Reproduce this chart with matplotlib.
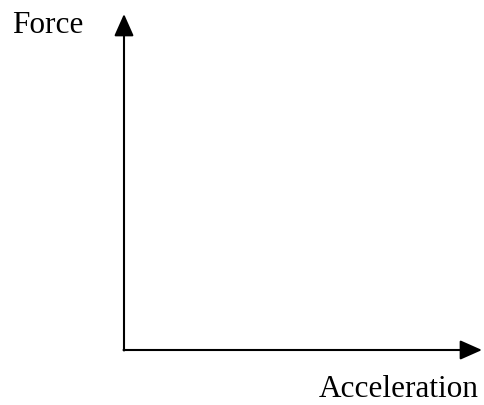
import matplotlib.pyplot as plt

# axis labels of the sketch
y_label = "Force"
x_label = "Acceleration"

# frame in pixel units of the 484x405 picture
width, height = 484, 405
origin = (124, 350)
y_tip = 14
x_tip = 482

plt.rcParams['font.family'] = ['Liberation Serif', 'DejaVu Serif']

fig = plt.figure(figsize=(width / 100, height / 100), dpi=100)
ax = fig.add_axes([0, 0, 1, 1])
ax.set_xlim(0, width)
ax.set_ylim(height, 0)
ax.axis('off')

arrow = dict(arrowstyle='-|>,head_length=1.35,head_width=0.6', lw=1.5,
             color='black', mutation_scale=10, shrinkA=0, shrinkB=0)

ax.annotate('', xy=(origin[0], y_tip), xytext=(origin[0], origin[1] + 0.5), arrowprops=arrow)
ax.annotate('', xy=(x_tip, origin[1]), xytext=(origin[0] - 0.5, origin[1]), arrowprops=arrow)

ax.text(12, 33, y_label, fontsize=22.5, ha='left', va='baseline')
ax.text(319, 404, x_label, fontsize=22.5, ha='left', va='bottom')

fig.savefig('out.png', dpi=100)
